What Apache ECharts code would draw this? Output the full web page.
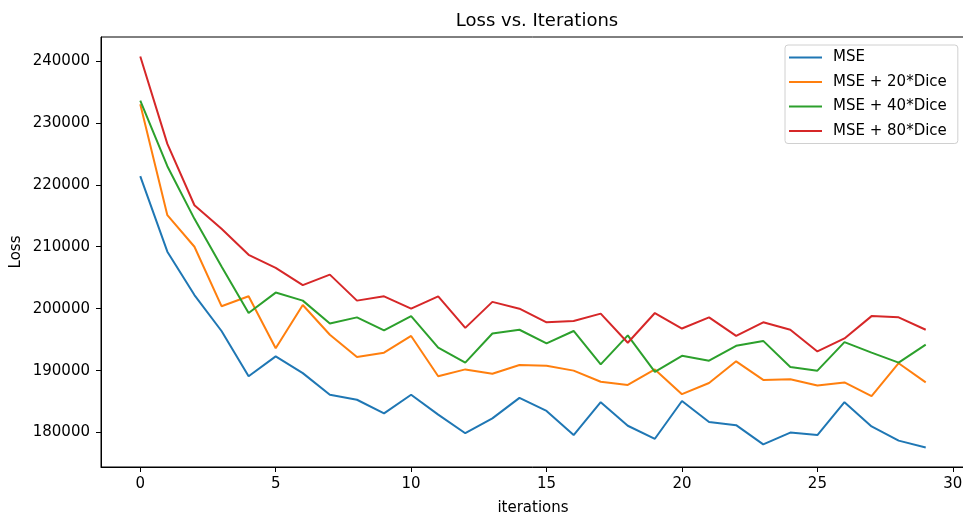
<!DOCTYPE html>
<html>
<head>
<meta charset="utf-8">
<script src="https://cdn.jsdelivr.net/npm/echarts@6/dist/echarts.min.js"></script>
<style>html,body{margin:0;padding:0;background:#fff}#c{width:963px;height:516px}</style>
</head>
<body>
<div id="c"></div>
<script>
const iterations = [0,1,2,3,4,5,6,7,8,9,10,11,12,13,14,15,16,17,18,19,20,21,22,23,24,25,26,27,28,29];
const mse = [221400,209200,202200,196400,189100,192300,189600,186100,185300,183100,186100,182900,179900,182300,185600,183500,179600,184900,181100,179000,185100,181700,181200,178100,180000,179600,184900,181000,178700,177600];
const mse20 = [233000,215100,210000,200400,202000,193600,200600,195800,192200,192900,195600,189100,190200,189500,190900,190800,190000,188200,187700,190200,186200,188000,191500,188500,188600,187600,188100,185900,191200,188100];
const mse40 = [233600,223000,214500,206800,199300,202600,201300,197600,198600,196500,198800,193700,191300,196000,196600,194400,196400,191000,195700,189800,192400,191600,194000,194800,190600,190000,194600,192900,191300,194200];
const mse80 = [240700,226600,216700,212900,208700,206600,203800,205500,201300,202000,200000,202000,196900,201100,200000,197800,198000,199200,194500,199300,196800,198600,195600,197800,196600,193100,195200,198800,198600,196600];
const seriesNames = ['MSE','MSE + 20*Dice','MSE + 40*Dice','MSE + 80*Dice'];
const xTicks = [0,5,10,15,20,25,30];
const yTicks = [180000,190000,200000,210000,220000,230000,240000];

const colors = ['#1f77b4','#ff7f0e','#2ca02c','#d62728'];
const all = [mse, mse20, mse40, mse80];
const font = 'DejaVu Sans';
const chart = echarts.init(document.getElementById('c'), null, {renderer:'canvas'});
chart.setOption({
  animation:false,
  backgroundColor:'#fff',
  title:{text:'Loss vs. Iterations', left:532, top:7, textAlign:'center',
    textStyle:{fontFamily:font, fontSize:18, fontWeight:'normal', color:'#000'}},
  grid:{left:101, top:37, width:864, height:430, show:true, borderColor:'#000', borderWidth:1, outerBoundsMode:'none', containLabel:false},
  legend:{orient:'vertical', left:785, top:45, padding:[5,11,5,4], itemGap:9.5,
    itemWidth:33, itemHeight:2, icon:'rect',
    borderColor:'#d0d0d0', borderWidth:1, borderRadius:3, backgroundColor:'#fff',
    textStyle:{fontFamily:font, fontSize:15, lineHeight:15, color:'#000', padding:[0,0,0,6]},
    data:seriesNames},
  xAxis:{type:'value', min:-1.45, max:30.45, name:'iterations', nameLocation:'middle', nameGap:34,
    nameMoveOverlap:false,
    nameTextStyle:{fontFamily:font, fontSize:15, color:'#000'},
    splitLine:{show:false},
    axisLine:{show:true, onZero:false, lineStyle:{color:'#000', width:1}},
    axisTick:{show:true, inside:false, length:5, customValues:xTicks, lineStyle:{color:'#000'}},
    axisLabel:{customValues:xTicks, margin:10, fontFamily:font, fontSize:15, color:'#000'}},
  yAxis:{type:'value', min:174445, max:243855, name:'Loss', nameLocation:'middle', nameGap:77,
    nameMoveOverlap:false,
    nameTextStyle:{fontFamily:font, fontSize:15, color:'#000'},
    splitLine:{show:false},
    axisLine:{show:true, onZero:false, lineStyle:{color:'#000', width:1}},
    axisTick:{show:true, inside:false, length:5, customValues:yTicks, lineStyle:{color:'#000'}},
    axisLabel:{customValues:yTicks, margin:11, fontFamily:font, fontSize:15, color:'#000',
      formatter:v=>String(v)}},
  series: all.map((vals,k)=>({
    name:seriesNames[k], type:'line', symbol:'none', color:colors[k],
    lineStyle:{width:2, color:colors[k]},
    data: iterations.map((x,i)=>[x, vals[i]])
  }))
});
</script>
</body>
</html>
